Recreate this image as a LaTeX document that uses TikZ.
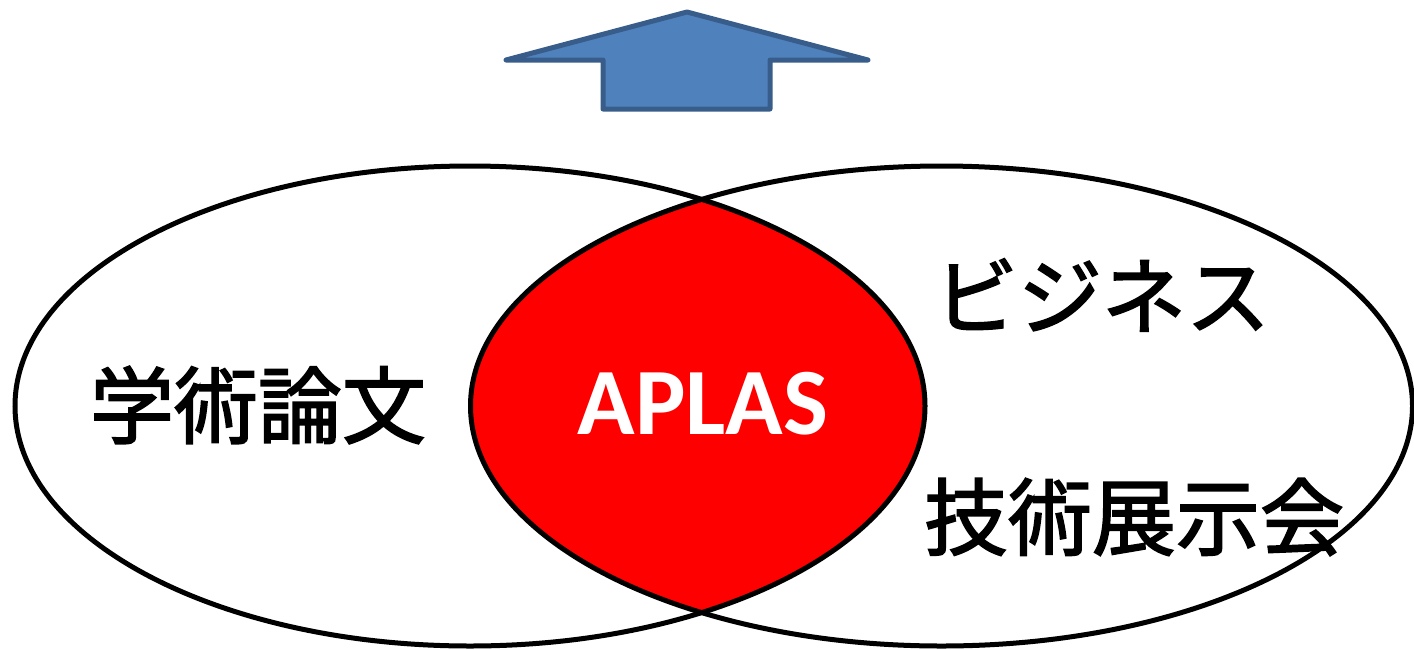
\documentclass[tikz,border=0pt]{standalone}
\usepackage{fontspec}
\newfontfamily\jpfont{Noto Sans CJK JP}[FakeBold=2]
\newfontfamily\latfont{Carlito}
\definecolor{arrowblue}{HTML}{4F81BD}
\definecolor{arrowedge}{HTML}{385D8A}
\begin{document}
\begin{tikzpicture}[x=1pt,y=-1pt,
  jplabel/.style={font=\jpfont\fontsize{84}{84}\selectfont, inner sep=0pt},
  setline/.style={draw=black, line width=5pt}]
 \useasboundingbox (0,0) rectangle (1414,649);

 % overlap of the two sets
 \begin{scope}
  \clip (470,406) ellipse [x radius=455, y radius=240];
  \fill[red] (941.5,406) ellipse [x radius=471, y radius=240];
 \end{scope}
 \draw[setline] (470,406) ellipse [x radius=455, y radius=240];
 \draw[setline] (941.5,406) ellipse [x radius=471, y radius=240];

 % block arrow
 \draw[fill=arrowblue, draw=arrowedge, line width=5pt, line join=round]
  (687,12) -- (868,60) -- (770,60) -- (770,109) -- (603,109) -- (603,60) -- (506,60) -- cycle;

 \node[jplabel] (paper) at (258,405) {学術論文};
 \node[jplabel] (biz) at (1102,295) {ビジネス};
 \node[jplabel] (expo) at (1134,517) {技術展示会};
 \node[font=\latfont\bfseries\fontsize{95}{95}\selectfont, text=white, inner sep=0pt] (aplas) at (703,404) {APLAS};
\end{tikzpicture}
\end{document}
